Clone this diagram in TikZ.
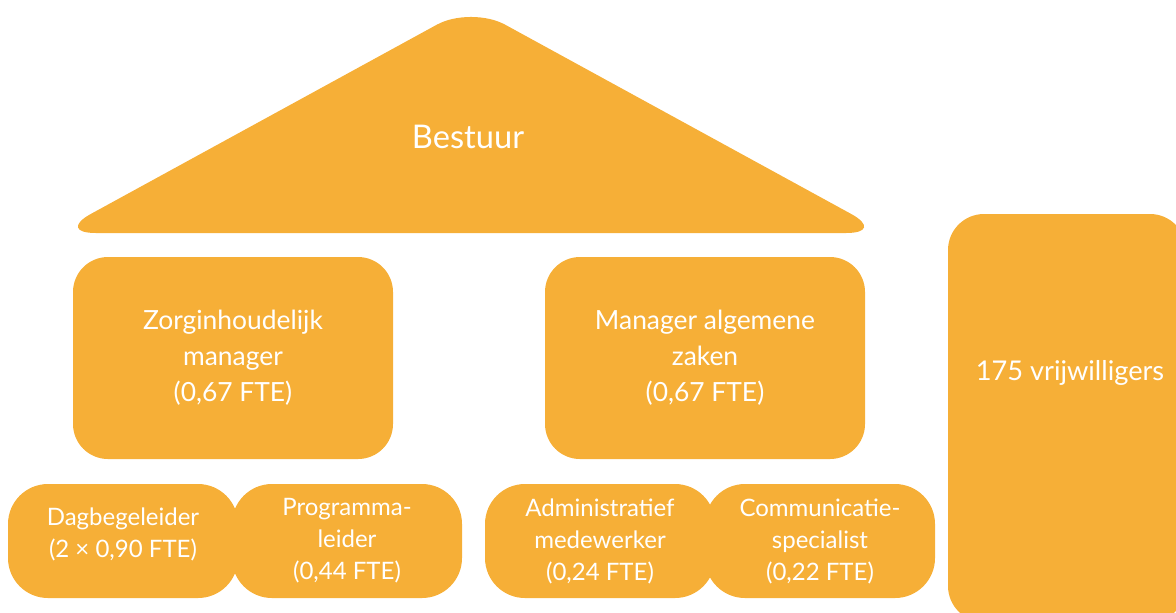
\documentclass[tikz,border=0pt]{standalone}
\usepackage{fontspec}
\setmainfont{Lato}
\definecolor{oranje}{RGB}{246,175,55}
\tikzset{
  vlak/.style={fill=oranje, draw=none, inner sep=0pt, text=white, align=center},
  manager/.style={vlak, rounded corners=17.5pt, minimum width=160pt, minimum height=101pt,
    font=\fontsize{13.2}{18}\selectfont},
  medewerker/.style={vlak, rounded corners=20pt, minimum width=115pt, minimum height=57pt,
    font=\fontsize{12}{16}\selectfont},
}

\begin{document}
\begin{tikzpicture}[x=0.5pt,y=-0.5pt]

\clip (0,0) rectangle (1176,612);

\coordinate (L) at (56,233);
\coordinate (T) at (471,6);
\coordinate (R) at (886,233);
\coordinate (M) at (471,233);

% dak
\fill[oranje] (M) [rounded corners=20pt] -- (L) [rounded corners=19.5pt] -- (T)
	[rounded corners=20pt] -- (R) -- cycle;
\node[text=white, font=\fontsize{16.3}{19}\selectfont] (bestuur) at (468,137) {Bestuur};

\node[manager] (zorg) at (233,358) {Zorginhoudelijk\\manager\\(0,67 FTE)};
\node[manager] (algemeen) at (705,358) {Manager algemene\\zaken\\(0,67 FTE)};

\node[medewerker] (dag) at (123,541) {Dagbegeleider\\(2 × 0,90 FTE)\\[-8pt]};
\node[medewerker] (programma) at (347,541) {Programma-\\leider\\(0,44 FTE)};
\node[medewerker] (admin) at (600,541) {Administratief\\medewerker\\(0,24 FTE)};
\node[medewerker] (communicatie) at (820,541) {Communicatie-\\specialist\\(0,22 FTE)};

\node[vlak, rounded corners=18pt, minimum width=119pt, minimum height=204pt] (vrijwilligers) at (1067,418) {};
\node[text=white, font=\fontsize{13.6}{16}\selectfont] (aantal) at (1070,373) {175 vrijwilligers};

\end{tikzpicture}
\end{document}
